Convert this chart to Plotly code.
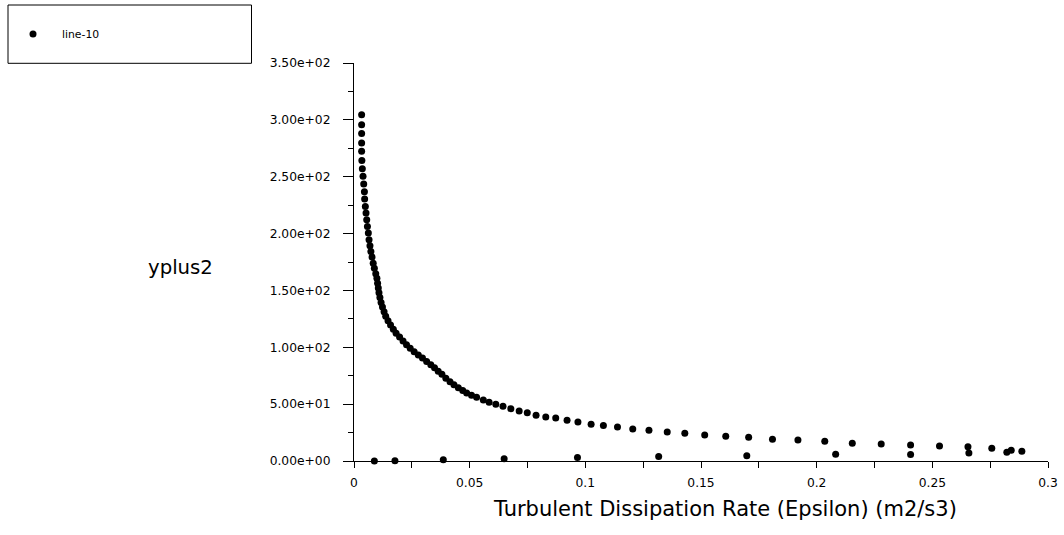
import plotly.graph_objects as go

# Turbulent dissipation rate (x) and yplus2 (y)
eps_curve = [
    0.0033, 0.0033, 0.0033, 0.0033, 0.0033, 0.0034, 0.0036, 0.0039, 0.0042, 0.0045,
    0.0046, 0.0049, 0.0052, 0.0055, 0.0058, 0.0062, 0.0065, 0.0069, 0.0073, 0.0078,
    0.0083, 0.0088, 0.0094, 0.0099, 0.0102, 0.0105, 0.0108, 0.0112, 0.0117, 0.0123,
    0.0130, 0.0137, 0.0147, 0.0158, 0.0170, 0.0182, 0.0197, 0.0212, 0.0227, 0.0243,
    0.0260, 0.0278, 0.0296, 0.0314, 0.0332, 0.0348, 0.0364, 0.0380, 0.0397, 0.0415,
    0.0432, 0.0451, 0.0470, 0.0487, 0.0508, 0.0530, 0.0559, 0.0584, 0.0613, 0.0644,
    0.0678, 0.0714, 0.0749, 0.0787, 0.0829, 0.0872, 0.0921, 0.0968, 0.1025, 0.1078,
    0.1139, 0.1205, 0.1275, 0.1354, 0.1430, 0.1516, 0.1607, 0.1706, 0.1809, 0.1919,
    0.2035, 0.2154, 0.2279, 0.2406, 0.2531, 0.2654, 0.2757, 0.2841, 0.2887,
]
yplus_curve = [
    304.6, 295.8, 287.9, 279.7, 272.3, 264.3, 257.0, 250.3, 243.6, 236.8,
    230.4, 223.9, 218.0, 212.1, 206.3, 200.4, 194.5, 189.3, 184.2, 179.3,
    174.0, 169.6, 164.6, 160.8, 156.4, 152.1, 147.9, 143.7, 139.4, 135.4,
    131.3, 127.2, 123.3, 119.5, 115.8, 112.4, 109.0, 105.6, 102.3, 99.1,
    96.1, 93.3, 90.5, 87.6, 84.7, 81.9, 79.0, 76.2, 72.8, 69.7,
    67.1, 64.4, 62.0, 59.9, 57.8, 56.1, 53.7, 51.7, 49.9, 48.2,
    46.0, 44.0, 42.4, 40.3, 38.7, 37.9, 35.9, 34.2, 32.4, 31.3,
    29.9, 28.2, 27.1, 25.6, 24.5, 22.9, 21.7, 20.9, 19.1, 18.5,
    17.4, 15.6, 15.0, 14.1, 13.2, 12.6, 11.2, 9.4, 8.5,
]
eps_wall = [0.0088, 0.0177, 0.0386, 0.0649, 0.0966, 0.1317, 0.1698, 0.2082, 0.2406, 0.2658, 0.2822]
yplus_wall = [0.1, 0.3, 1.0, 2.0, 3.1, 4.0, 4.7, 6.0, 5.8, 7.0, 7.6]

x_tick_vals = [0, 0.05, 0.1, 0.15, 0.2, 0.25, 0.3]
x_tick_text = ["0", "0.05", "0.1", "0.15", "0.2", "0.25", "0.3"]
y_tick_vals = [0, 50, 100, 150, 200, 250, 300, 350]
y_tick_text = ["0.00e+00", "5.00e+01", "1.00e+02", "1.50e+02",
               "2.00e+02", "2.50e+02", "3.00e+02", "3.50e+02"]

FONT = "DejaVu Sans"

fig = go.Figure()
fig.add_trace(go.Scatter(
    x=eps_curve + eps_wall,
    y=yplus_curve + yplus_wall,
    mode="markers",
    name="line-10",
    marker=dict(color="black", size=7),
    cliponaxis=False,
))

fig.update_layout(
    width=1064, height=535,
    margin=dict(l=354, r=16, t=63, b=74, autoexpand=False),
    paper_bgcolor="white", plot_bgcolor="white",
    showlegend=True,
    legend=dict(
        x=(4 - 354) / 694, xanchor="left",
        y=(461 - 34) / 398, yanchor="middle",
        bgcolor="rgba(0,0,0,0)", borderwidth=0,
        itemwidth=48,
        font=dict(family=FONT, size=10.8, color="black"),
    ),
    xaxis=dict(
        range=[0, 0.3], showline=True, linecolor="black", linewidth=1,
        ticks="outside", ticklen=6, tickcolor="black",
        tickvals=x_tick_vals, ticktext=x_tick_text,
        ticklabelstandoff=4,
        showgrid=False, zeroline=False, layer="below traces",
        tickfont=dict(family=FONT, size=12.3, color="black"),
        minor=dict(ticks="outside", ticklen=6, dtick=0.025, tickcolor="black", showgrid=False),
    ),
    yaxis=dict(
        range=[0, 350], showline=True, linecolor="black", linewidth=1,
        ticks="outside", ticklen=10, tickcolor="black",
        tickvals=y_tick_vals, ticktext=y_tick_text,
        ticklabelstandoff=10,
        showgrid=False, zeroline=False, layer="below traces",
        tickfont=dict(family=FONT, size=12.3, color="black"),
        minor=dict(ticks="outside", ticklen=5, dtick=25, tickcolor="black", showgrid=False),
    ),
    shapes=[dict(
        type="rect", xref="paper", yref="paper",
        x0=(8 - 354) / 694, x1=(251.5 - 354) / 694,
        y0=(461 - 63.3) / 398, y1=(461 - 5) / 398,
        line=dict(color="black", width=1), fillcolor="rgba(0,0,0,0)",
    )],
    annotations=[
        dict(text="Turbulent Dissipation Rate (Epsilon) (m2/s3)",
             xref="paper", yref="paper",
             x=(725 - 354) / 694, y=(461 - 509) / 398,
             xanchor="center", yanchor="middle", showarrow=False,
             font=dict(family=FONT, size=21, color="black")),
        dict(text="yplus2",
             xref="paper", yref="paper",
             x=(180.5 - 354) / 694, y=(461 - 267) / 398,
             xanchor="center", yanchor="middle", showarrow=False,
             font=dict(family=FONT, size=19.7, color="black")),
    ],
)

fig.write_html("out.html")
